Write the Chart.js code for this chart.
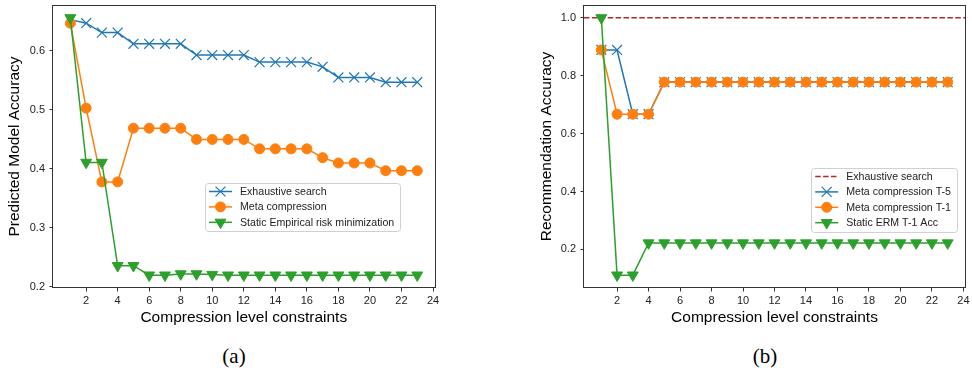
<!DOCTYPE html>
<html>
<head>
<meta charset="utf-8">
<script src="https://cdn.jsdelivr.net/npm/chart.js@4/dist/chart.umd.min.js"></script>
<style>
  body { margin: 0; background: #fff; width: 972px; height: 368px; overflow: hidden; position: relative; }
  canvas { position: absolute; top: 0; }
  .caption { position: absolute; top: 344px; width: 100px; text-align: center;
             font-family: "Liberation Serif", "Times New Roman", serif; font-size: 21px; color: #000; }
</style>
</head>
<body>
<canvas id="chartA" width="486" height="330" style="left:0"></canvas>
<canvas id="chartB" width="486" height="330" style="left:486px"></canvas>
<div class="caption" style="left:184px">(a)</div>
<div class="caption" style="left:715px">(b)</div>
<script>
// compression levels on the x axis
const levels = [1, 2, 3, 4, 5, 6, 7, 8, 9, 10, 11, 12, 13, 14, 15, 16, 17, 18, 19, 20, 21, 22, 23];
const xTicks = [2, 4, 6, 8, 10, 12, 14, 16, 18, 20, 22, 24];

// (a) predicted model accuracy
const yTicksA = [0.2, 0.3, 0.4, 0.5, 0.6];
const exhaustiveA = [0.653, 0.647, 0.631, 0.631, 0.612, 0.612, 0.612, 0.612, 0.593, 0.593, 0.593, 0.593,
  0.581, 0.581, 0.581, 0.581, 0.573, 0.555, 0.555, 0.555, 0.547, 0.547, 0.547];
const metaA = [0.647, 0.503, 0.378, 0.378, 0.469, 0.469, 0.469, 0.469, 0.450, 0.450, 0.450, 0.450,
  0.434, 0.434, 0.434, 0.434, 0.419, 0.410, 0.410, 0.410, 0.397, 0.397, 0.397];
const staticA = [0.656, 0.411, 0.411, 0.236, 0.236, 0.220, 0.220, 0.222, 0.222, 0.221, 0.220, 0.220,
  0.220, 0.220, 0.220, 0.220, 0.220, 0.220, 0.220, 0.220, 0.220, 0.220, 0.220];

// (b) recommendation accuracy
const yTicksB = [0.2, 0.4, 0.6, 0.8, 1.0];
const exhaustiveB = 1.0;
const metaT5B = [0.889, 0.889, 0.667, 0.667, 0.778, 0.778, 0.778, 0.778, 0.778, 0.778, 0.778, 0.778,
  0.778, 0.778, 0.778, 0.778, 0.778, 0.778, 0.778, 0.778, 0.778, 0.778, 0.778];
const metaT1B = [0.889, 0.667, 0.667, 0.667, 0.778, 0.778, 0.778, 0.778, 0.778, 0.778, 0.778, 0.778,
  0.778, 0.778, 0.778, 0.778, 0.778, 0.778, 0.778, 0.778, 0.778, 0.778, 0.778];
const staticB = [1.0, 0.111, 0.111, 0.222, 0.222, 0.222, 0.222, 0.222, 0.222, 0.222, 0.222, 0.222,
  0.222, 0.222, 0.222, 0.222, 0.222, 0.222, 0.222, 0.222, 0.222, 0.222, 0.222];

const SANS = '"Liberation Sans", Arial, Helvetica, sans-serif';
const BLUE = '#1f77b4', ORANGE = '#ff7f0e', GREEN = '#2ca02c', RED = '#b22b2b';

// matplotlib style 5% margins
function limits(arrays) {
  const all = [].concat(...arrays);
  const lo = Math.min(...all), hi = Math.max(...all);
  const m = (hi - lo) * 0.05;
  return [lo - m, hi + m];
}

const markers = {
  x: { pointStyle: 'crossRot', pointRadius: 7, pointBorderWidth: 1.2, pointRotation: 0 },
  o: { pointStyle: 'circle', pointRadius: 5, pointBorderWidth: 1, pointRotation: 0 },
  v: { pointStyle: 'triangle', pointRadius: 6.3, pointBorderWidth: 1, pointRotation: 180 }
};

function series(label, values, color, marker, idx) {
  return Object.assign({
    label: label,
    data: levels.map((x, i) => ({ x: x, y: values[i] })),
    borderColor: color,
    backgroundColor: color,
    pointBackgroundColor: color,
    pointBorderColor: color,
    borderWidth: 1.5,
    tension: 0,
    order: 10 - idx
  }, markers[marker]);
}

function drawMarker(ctx, ds, x, y) {
  const r = ds.pointRadius;
  ctx.save();
  ctx.lineWidth = ds.pointBorderWidth;
  ctx.strokeStyle = ds.pointBorderColor;
  ctx.fillStyle = ds.pointBackgroundColor;
  ctx.setLineDash([]);
  ctx.beginPath();
  if (ds.pointStyle === 'crossRot') {
    const d = r * Math.SQRT1_2;
    ctx.moveTo(x - d, y - d); ctx.lineTo(x + d, y + d);
    ctx.moveTo(x - d, y + d); ctx.lineTo(x + d, y - d);
    ctx.stroke();
  } else if (ds.pointStyle === 'circle') {
    ctx.arc(x, y, r, 0, Math.PI * 2);
    ctx.fill(); ctx.stroke();
  } else if (ds.pointStyle === 'triangle') {
    ctx.moveTo(x, y + r);
    ctx.lineTo(x - 0.866 * r, y - 0.5 * r);
    ctx.lineTo(x + 0.866 * r, y - 0.5 * r);
    ctx.closePath();
    ctx.fill(); ctx.stroke();
  }
  ctx.restore();
}

// box around the plot area
const framePlugin = {
  id: 'frame',
  afterDraw(chart) {
    const { ctx, chartArea: a } = chart;
    ctx.save();
    ctx.strokeStyle = '#333';
    ctx.lineWidth = 1;
    ctx.strokeRect(Math.round(a.left) - 0.5, Math.round(a.top) + 0.5,
      Math.round(a.right - a.left) + 1, Math.round(a.bottom - a.top) - 1);
    ctx.restore();
  }
};

// horizontal reference line across the whole plot
const hlinePlugin = {
  id: 'hline',
  beforeDatasetsDraw(chart, args, opts) {
    if (opts.value === undefined) return;
    const { ctx, chartArea: a } = chart;
    const y = chart.scales.y.getPixelForValue(opts.value);
    ctx.save();
    ctx.beginPath();
    ctx.rect(a.left, a.top, a.right - a.left, a.bottom - a.top);
    ctx.clip();
    ctx.strokeStyle = opts.color;
    ctx.lineWidth = 1.5;
    ctx.setLineDash([5.5, 2.4]);
    ctx.beginPath();
    ctx.moveTo(a.left, y);
    ctx.lineTo(a.right, y);
    ctx.stroke();
    ctx.restore();
  }
};

// matplotlib-like legend: line sample with marker in the middle
const boxLegendPlugin = {
  id: 'boxLegend',
  afterDraw(chart, args, opts) {
    const { ctx, chartArea: a } = chart;
    const entries = opts.entries;
    ctx.save();
    ctx.font = '10.6px ' + SANS;
    const textW = Math.max(...entries.map(e => ctx.measureText(e.label).width));
    const w = 35 + textW + 6;
    const rowH = 15.4;
    const h = 8.5 + (entries.length - 1) * rowH + 9;
    let left = opts.left !== undefined ? a.left + opts.left : a.right - opts.right - w;
    const top = a.top + opts.top;
    ctx.fillStyle = 'rgba(255,255,255,0.8)';
    ctx.strokeStyle = '#d0d0d0';
    ctx.lineWidth = 1;
    ctx.beginPath();
    ctx.roundRect(Math.round(left) + 0.5, Math.round(top) + 0.5, Math.round(w), Math.round(h), 3);
    ctx.fill();
    ctx.stroke();
    entries.forEach((e, i) => {
      const y = top + 8.5 + i * rowH;
      ctx.save();
      ctx.strokeStyle = e.color;
      ctx.lineWidth = 1.5;
      ctx.setLineDash(e.dash || []);
      ctx.beginPath();
      ctx.moveTo(left + 4, y);
      ctx.lineTo(left + 27, y);
      ctx.stroke();
      ctx.restore();
      if (e.ds) drawMarker(ctx, e.ds, left + 15.5, y);
      ctx.fillStyle = '#222';
      ctx.textBaseline = 'middle';
      ctx.fillText(e.label, left + 35, y + 0.5);
    });
    ctx.restore();
  }
};

function makeChart(id, datasets, yTicks, yTitle, yWidth, yTitlePad, padRight, legend, hline) {
  const xr = limits([levels]);
  const yr = limits(datasets.map(d => d.data.map(p => p.y)).concat(hline ? [[hline.value]] : []));
  return new Chart(document.getElementById(id), {
    type: 'line',
    data: { datasets: datasets },
    plugins: [hlinePlugin, framePlugin, boxLegendPlugin],
    options: {
      responsive: false,
      animation: false,
      events: [],
      devicePixelRatio: 1,
      layout: { autoPadding: false, padding: { top: 5, right: padRight, left: 0, bottom: 0 } },
      plugins: {
        legend: { display: false },
        tooltip: { enabled: false },
        hline: hline || {},
        boxLegend: legend
      },
      scales: {
        x: {
          type: 'linear',
          min: xr[0],
          max: xr[1],
          afterBuildTicks: s => { s.ticks = xTicks.map(v => ({ value: v })); },
          afterFit: s => { s.height = 42; s.paddingLeft = 0; s.paddingRight = 0; },
          ticks: { autoSkip: false, maxRotation: 0, padding: 3, color: '#222',
                   font: { family: SANS, size: 11 }, callback: v => String(v) },
          grid: { drawOnChartArea: false, drawTicks: true, tickLength: 3.5, color: '#333' },
          border: { display: false },
          title: { display: true, text: 'Compression level constraints', color: '#000',
                   font: { family: SANS, size: 15.5 }, padding: { top: 0, bottom: 3 } }
        },
        y: {
          type: 'linear',
          min: yr[0],
          max: yr[1],
          afterBuildTicks: s => { s.ticks = yTicks.map(v => ({ value: v })); },
          afterFit: s => { s.width = yWidth; s.paddingTop = 0; s.paddingBottom = 0; },
          ticks: { padding: 4.5, color: '#222', font: { family: SANS, size: 11 },
                   callback: v => v.toFixed(1) },
          grid: { drawOnChartArea: false, drawTicks: true, tickLength: 3.5, color: '#333' },
          border: { display: false },
          title: { display: true, text: yTitle, color: '#000',
                   font: { family: SANS, size: 15.5 }, padding: { top: yTitlePad, bottom: 0 } }
        }
      }
    }
  });
}

// (a)
const dsA = [
  series('Exhaustive search', exhaustiveA, BLUE, 'x', 0),
  series('Meta compression', metaA, ORANGE, 'o', 1),
  series('Static Empirical risk minimization', staticA, GREEN, 'v', 2)
];
makeChart('chartA', dsA, yTicksA, 'Predicted Model Accuracy', 53, 5.7, 51.4, {
  left: 152, top: 178,
  entries: dsA.map(d => ({ label: d.label, color: d.borderColor, ds: d }))
});

// (b)
const dsB = [
  series('Meta compression T-5', metaT5B, BLUE, 'x', 1),
  series('Meta compression T-1', metaT1B, ORANGE, 'o', 2),
  series('Static ERM T-1 Acc', staticB, GREEN, 'v', 3)
];
makeChart('chartB', dsB, yTicksB, 'Recommendation Accuracy', 98, 51.7, 7, {
  right: 8, top: 163,
  entries: [{ label: 'Exhaustive search', color: RED, dash: [5.5, 2.4] }]
    .concat(dsB.map(d => ({ label: d.label, color: d.borderColor, ds: d })))
}, { value: exhaustiveB, color: RED });
</script>
</body>
</html>
